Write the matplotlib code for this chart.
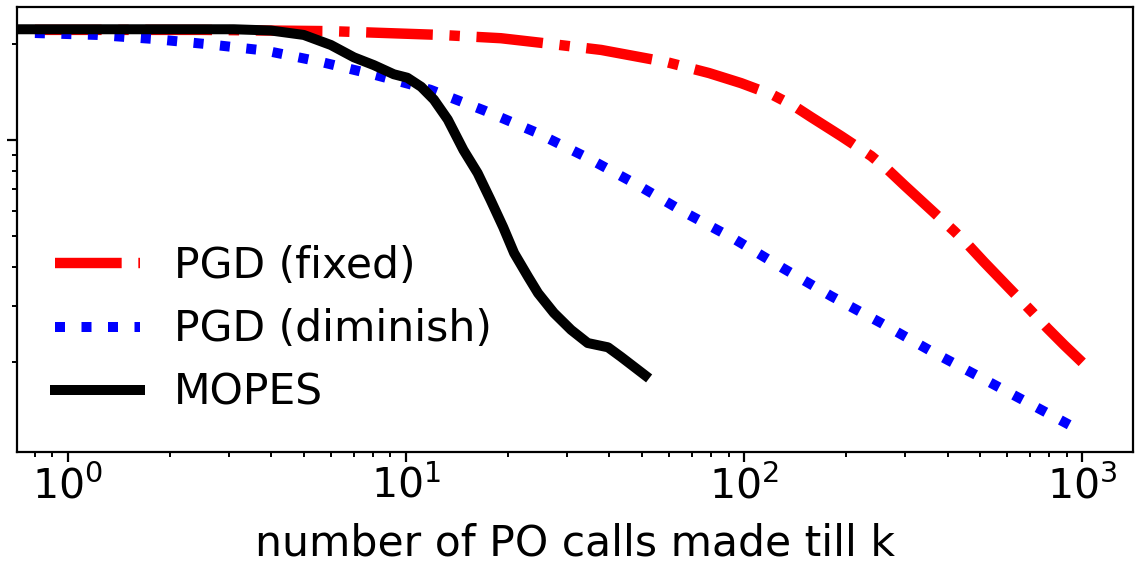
import matplotlib
matplotlib.use("Agg")
import matplotlib.pyplot as plt
from matplotlib.ticker import LogLocator, NullFormatter, FixedLocator

# ---- data ----
pgd_fixed_x = [0.80, 2.475, 6.0, 12.7, 19.1, 27.4, 37.8, 58.8, 78.8, 98.0, 121.8, 140.6,
               157.8, 193.6, 237.6, 266.8, 297.3, 352.6, 418.2, 460.0, 512.9, 599.8,
               706.8, 787.8, 884.5, 1000]
pgd_fixed_y = [2.22, 2.22, 2.20, 2.14, 2.09, 2.00, 1.92, 1.76, 1.624, 1.51, 1.385, 1.279,
               1.181, 1.029, 0.891, 0.805, 0.722, 0.611, 0.517, 0.468, 0.413, 0.3475,
               0.290, 0.2564, 0.2266, 0.200]

pgd_dim_x = [0.80, 1.22, 1.78, 2.61, 3.85, 5.61, 8.15, 11.8, 17.0, 24.1, 34.1, 47.9,
             66.4, 93.4, 130, 181, 254, 357, 502, 702, 1000]
pgd_dim_y = [2.17, 2.14, 2.08, 2.00, 1.91, 1.76, 1.60, 1.44, 1.24, 1.06, 0.884, 0.727,
             0.594, 0.489, 0.396, 0.323, 0.266, 0.217, 0.179, 0.148, 0.121]

mopes_x = [0.70, 3.10, 3.99, 4.99, 6.0, 7.02, 8.04, 9.21, 10.1, 11.1, 12.1, 13.3, 14.8,
           16.3, 17.8, 19.4, 20.9, 23.0, 24.6, 27.4, 30.8, 34.5, 39.6, 43.3, 51.0]
mopes_y = [2.23, 2.23, 2.21, 2.14, 1.99, 1.82, 1.72, 1.61, 1.57, 1.47, 1.34, 1.16, 0.930,
           0.787, 0.648, 0.532, 0.441, 0.371, 0.330, 0.286, 0.253, 0.230, 0.223, 0.208, 0.182]

labels = ["PGD (fixed)", "PGD (diminish)", "MOPES"]
xlabel = "number of PO calls made till k"

W, H = 1144, 564
fig = plt.figure(figsize=(W / 100, H / 100), dpi=100)
ax = fig.add_axes([17 / W, 1 - 452 / H, (1133 - 17) / W, (452 - 7) / H])

ax.plot(pgd_fixed_x, pgd_fixed_y, color="red", linestyle="-.", linewidth=7.5, label=labels[0])
ax.plot(pgd_dim_x, pgd_dim_y, color="blue", linestyle=":", linewidth=7.2, label=labels[1])
ax.plot(mopes_x, mopes_y, color="black", linestyle="-", linewidth=7.2, label=labels[2])

ax.set_xscale("log")
ax.set_yscale("log")
ax.set_xlim(0.708, 1413)
ax.set_ylim(0.1045, 2.62)

ax.yaxis.set_major_locator(FixedLocator([1.0]))
ax.yaxis.set_minor_locator(LogLocator(base=10, subs=range(2, 10)))
ax.yaxis.set_major_formatter(NullFormatter())
ax.yaxis.set_minor_formatter(NullFormatter())

ax.xaxis.set_major_locator(FixedLocator([1, 10, 100, 1000]))
ax.xaxis.set_minor_locator(LogLocator(base=10, subs=range(2, 10)))
ax.xaxis.set_minor_formatter(NullFormatter())

ax.tick_params(which="major", length=7, width=1.6, labelsize=29.5)
ax.tick_params(which="minor", length=3.6, width=1.4)
for s in ax.spines.values():
    s.set_linewidth(1.6)

ax.set_xlabel(xlabel, fontsize=30.6, labelpad=11)

ax.legend(loc="lower left", frameon=False, fontsize=30.6)

fig.savefig("out.png", dpi=100)
